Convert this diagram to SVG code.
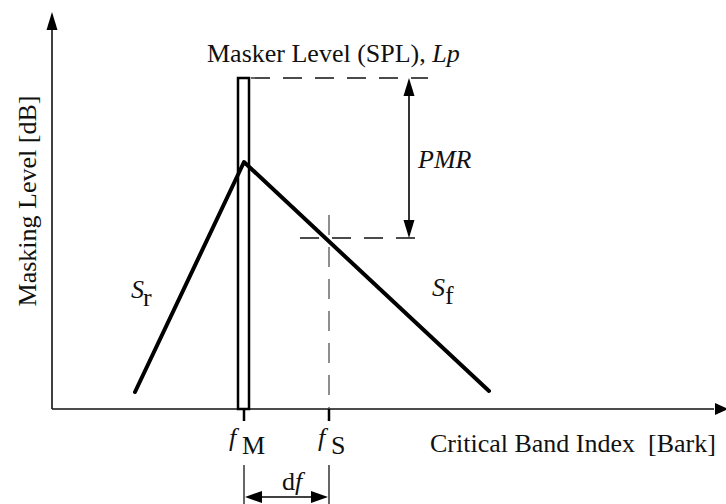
<svg xmlns="http://www.w3.org/2000/svg" width="726" height="504" viewBox="0 0 726 504">
<style>
.t{font-family:"Liberation Serif","Times New Roman",serif;font-size:26px;fill:#111}
.i{font-style:italic}
.ax{stroke:#111;stroke-width:1.6;fill:none}
.dash{stroke:#111;stroke-width:1.3;stroke-dasharray:19 13;fill:none}
.thin{stroke:#444;stroke-width:1.2;stroke-dasharray:20 12;fill:none}
.thick{stroke:#000;stroke-width:4;fill:none;stroke-linecap:round;stroke-linejoin:round}
.ah{fill:#000}
</style>
<rect width="726" height="504" fill="#fff"/>
<g id="axes">
  <line class="ax" x1="52" y1="409" x2="52" y2="26"/>
  <polygon class="ah" points="52,12 46.5,30 57.5,30"/>
  <line class="ax" x1="52" y1="409" x2="714" y2="409"/>
  <polygon class="ah" points="728,409 715,403 715,415"/>
  <text class="t" transform="translate(36,201) rotate(-90)" text-anchor="middle" font-size="27">Masking Level [dB]</text>
  <text class="t" x="430" y="452" xml:space="preserve">Critical Band Index  [Bark]</text>
</g>
<g id="masker">
  <rect x="238" y="78" width="11" height="331" fill="#fff" stroke="#000" stroke-width="2.5"/>
  <text class="t" x="207" y="62" font-size="26.5">Masker Level (SPL), <tspan class="i">Lp</tspan></text>
</g>
<g id="spreading">
  <polyline class="thick" points="135,392 244,162 489,391"/>
  <text class="t i" x="131" y="298" font-size="28">S</text>
  <text class="t" x="143" y="306" font-size="17">r</text>
  <text class="t i" x="432" y="296" font-size="28">S</text>
  <text class="t" x="445" y="304" font-size="17">f</text>
</g>
<g id="connectors">
  <line class="dash" x1="251" y1="78" x2="428" y2="78"/>
  <line class="dash" x1="300" y1="238" x2="418" y2="238"/>
  <line class="thin" x1="329" y1="215" x2="329" y2="409"/>
  <line stroke="#000" stroke-width="1.6" x1="409" y1="94" x2="409" y2="222"/>
  <polygon class="ah" points="409,78 403.5,96 414.5,96"/>
  <polygon class="ah" points="409,238 403.5,220 414.5,220"/>
  <line stroke="#000" stroke-width="2.5" x1="244" y1="409" x2="244" y2="421"/>
  <line stroke="#000" stroke-width="2.5" x1="329" y1="409" x2="329" y2="421"/>
  <line stroke="#000" stroke-width="1.2" x1="244" y1="465" x2="244" y2="504"/>
  <line stroke="#000" stroke-width="1.2" x1="329" y1="465" x2="329" y2="504"/>
  <line stroke="#000" stroke-width="1.6" x1="258" y1="497" x2="315" y2="497"/>
  <polygon class="ah" points="245,497 262,491 262,503"/>
  <polygon class="ah" points="328,497 311,491 311,503"/>
</g>
<g id="labels">
  <text class="t i" x="229" y="446" font-size="30">f</text>
  <text class="t" x="242" y="454" font-size="18">M</text>
  <text class="t i" x="318" y="446" font-size="30">f</text>
  <text class="t" x="331" y="454" font-size="18">S</text>
  <text class="t" x="282" y="490">d<tspan class="i">f</tspan></text>
  <text class="t i" x="418" y="168">PMR</text>
</g>
</svg>
